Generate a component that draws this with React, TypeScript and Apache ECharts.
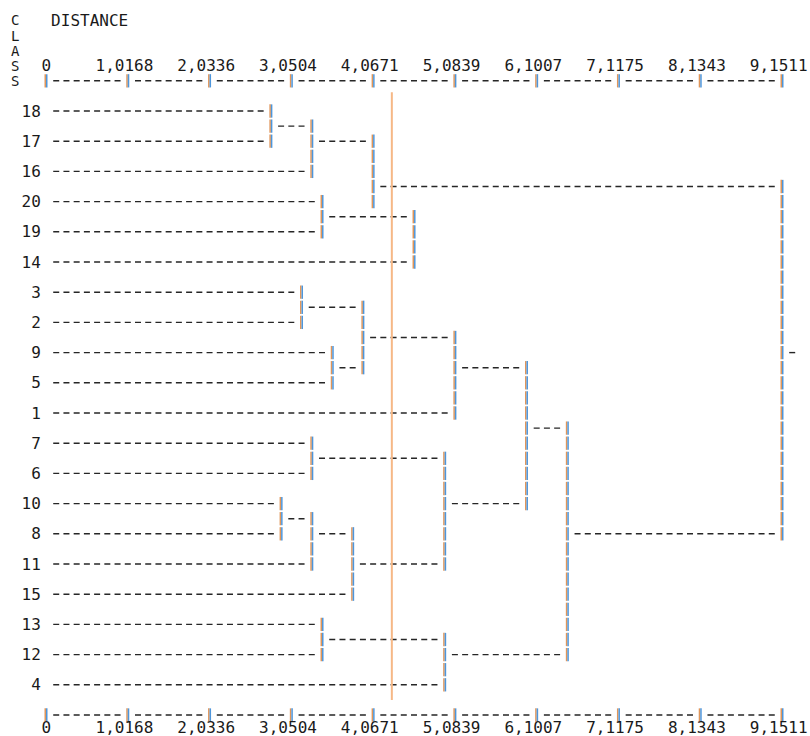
import React, { useEffect, useRef } from "react";
import * as echarts from "echarts";

// ---------- data ----------
const leafLabels = ["18", "17", "16", "20", "19", "14", "3", "2", "9", "5", "1", "7", "6", "10", "8", "11", "15", "13", "12", "4"];
// distance at which each leaf line meets its first vertical bar
const leafJoin = [2.796, 2.796, 3.305, 3.432, 3.432, 4.576, 3.177, 3.177, 3.559, 3.559, 5.084, 3.305, 3.305, 2.923, 2.923, 3.305, 3.813, 3.432, 3.432, 4.957];

// vertical merge bars: distance, first row, last row (rows in half-leaf steps)
const mergeHeights = [2.796, 3.305, 4.067, 3.432, 4.576, 9.151, 3.177, 3.559, 3.94, 5.084, 5.974, 6.482, 3.305, 2.923, 3.305, 3.813, 4.957, 3.432, 4.957];
const mergeFromRow = [0, 1, 2, 6, 7, 5, 12, 16, 13, 15, 17, 21, 22, 26, 27, 28, 23, 34, 35];
const mergeToRow = [2, 4, 6, 8, 10, 28, 14, 18, 17, 20, 26, 36, 24, 28, 30, 32, 30, 36, 38];

// horizontal links between bars: from distance, to distance, row
const linkFrom = [2.796, 3.305, 4.067, 3.432, 3.177, 3.559, 3.94, 5.084, 5.974, 3.305, 2.923, 3.305, 3.813, 4.957, 6.482, 3.432, 4.957, 9.151];
const linkTo = [3.305, 4.067, 9.151, 4.576, 3.94, 3.94, 5.084, 5.974, 6.482, 4.957, 3.305, 3.813, 4.957, 5.974, 9.151, 4.957, 6.482, 9.405];
const linkRow = [1, 2, 5, 7, 13, 17, 15, 17, 21, 23, 27, 28, 30, 26, 28, 35, 36, 16];

// distance axis
const tickValues = [0, 1.0168, 2.0336, 3.0504, 4.0671, 5.0839, 6.1007, 7.1175, 8.1343, 9.1511];
const tickLabels = ["0", "1,0168", "2,0336", "3,0504", "4,0671", "5,0839", "6,1007", "7,1175", "8,1343", "9,1511"];
const classLetters = ["C", "L", "A", "S", "S"];
const titleText = "DISTANCE";

// cut line
const cutDistance = 4.3;
const cutRowFrom = -1.25;
const cutRowTo = 39;

// ---------- layout constants ----------
const MAX_D = 9.1511;
const COLS = 72;
const HEADER_ROW = -6;
const TOP_LABEL_ROW = -3;
const TOP_AXIS_ROW = -2;
const BOTTOM_AXIS_ROW = 40;
const BOTTOM_LABEL_ROW = 40.8;
const Y_MAX = 41;

const DASH_COLOR = "#262626";
const ORANGE = "#e0965a";
const BLUE = "#4d96dc";
const TEXT_COLOR = "#1a1a1a";
const FONT = '16px "DejaVu Sans Mono", monospace';
const LETTER_FONT = '14px "DejaVu Sans Mono", monospace';

function metrics(api: any) {
  const x0 = api.coord([0, 0])[0];
  const xm = api.coord([MAX_D, 0])[0];
  const charW = (xm - x0) / COLS;
  const rowH = api.coord([0, 1])[1] - api.coord([0, 0])[1];
  return { charW, rowH };
}

function dashLine(x1: number, x2: number, y: number, charW: number) {
  return {
    type: "line",
    shape: { x1, y1: y, x2, y2: y },
    style: { stroke: DASH_COLOR, lineWidth: 1.4, lineDash: [6, charW - 6] },
  };
}

function barGlyph(x: number, y: number, rowH: number) {
  const h = rowH * 0.44;
  return [
    { type: "line", shape: { x1: x - 0.75, y1: y - h, x2: x - 0.75, y2: y + h }, style: { stroke: ORANGE, lineWidth: 1.5 } },
    { type: "line", shape: { x1: x + 0.75, y1: y - h, x2: x + 0.75, y2: y + h }, style: { stroke: BLUE, lineWidth: 1.5 } },
  ];
}

function textEl(text: string, x: number, y: number, align: string, font: string = FONT) {
  return {
    type: "text",
    style: { text, x, y, font, lineHeight: 13, fill: TEXT_COLOR, align, verticalAlign: "middle" },
  };
}

export default function App() {
  const ref = useRef<HTMLDivElement>(null);

  useEffect(() => {
    if (!ref.current) return;
    const chart = echarts.init(ref.current, null, { renderer: "svg" });

    const option: any = {
      animation: false,
      backgroundColor: "#ffffff",
      grid: { left: 46, right: 28, top: 20.4, bottom: 5.9 },
      xAxis: { type: "value", min: 0, max: MAX_D, show: false },
      yAxis: { type: "value", min: HEADER_ROW, max: Y_MAX, inverse: true, show: false },
      series: [
        // leaves
        {
          type: "custom",
          silent: true,
          clip: false,
          data: leafJoin.map((d, i) => [d, i * 2]),
          renderItem: (params: any, api: any) => {
            const { charW } = metrics(api);
            const d = api.value(0);
            const row = api.value(1);
            const [x0, y] = api.coord([0, row]);
            const xe = api.coord([d, row])[0];
            return {
              type: "group",
              children: [
                dashLine(x0 + charW - 3, xe - charW + 3, y, charW),
                textEl(leafLabels[params.dataIndex], x0 - 0.5 * charW, y, "right"),
              ],
            };
          },
        },
        // vertical bars
        {
          type: "custom",
          silent: true,
          clip: false,
          data: mergeHeights.map((d, i) => [d, mergeFromRow[i], mergeToRow[i]]),
          renderItem: (params: any, api: any) => {
            const { rowH } = metrics(api);
            const d = api.value(0);
            const r1 = api.value(1);
            const r2 = api.value(2);
            const children: any[] = [];
            for (let r = r1; r <= r2; r++) {
              const [x, y] = api.coord([d, r]);
              children.push(...barGlyph(x, y, rowH));
            }
            return { type: "group", children };
          },
        },
        // horizontal links
        {
          type: "custom",
          silent: true,
          clip: false,
          data: linkFrom.map((a, i) => [a, linkTo[i], linkRow[i]]),
          renderItem: (params: any, api: any) => {
            const { charW } = metrics(api);
            const a = api.value(0);
            const b = api.value(1);
            const row = api.value(2);
            const [xa, y] = api.coord([a, row]);
            const xb = api.coord([b, row])[0];
            return dashLine(xa + charW - 3, xb - charW + 3, y, charW);
          },
        },
        // distance axes, top and bottom
        {
          type: "custom",
          silent: true,
          clip: false,
          data: tickValues.map((v) => [v]),
          renderItem: (params: any, api: any) => {
            const { charW, rowH } = metrics(api);
            const i = params.dataIndex;
            const v = api.value(0);
            const label = tickLabels[i];
            const children: any[] = [];
            for (const [axisRow, labelRow] of [[TOP_AXIS_ROW, TOP_LABEL_ROW], [BOTTOM_AXIS_ROW, BOTTOM_LABEL_ROW]]) {
              const [x, y] = api.coord([v, axisRow]);
              children.push(...barGlyph(x, y, rowH));
              if (i < tickValues.length - 1) {
                const xn = api.coord([tickValues[i + 1], axisRow])[0];
                children.push(dashLine(x + charW - 3, xn - charW + 3, y, charW));
              }
              const ly = api.coord([v, labelRow])[1];
              const lx = x + (label.length > 1 ? 2.5 : 0.5) * charW;
              children.push(textEl(label, lx, ly, "right"));
            }
            return { type: "group", children };
          },
        },
        // CLASS letters and DISTANCE title
        {
          type: "custom",
          silent: true,
          clip: false,
          data: classLetters.map((_, i) => [0, HEADER_ROW + i]),
          renderItem: (params: any, api: any) => {
            const { charW } = metrics(api);
            const row = api.value(1);
            const [x0, y] = api.coord([0, row]);
            const children: any[] = [textEl(classLetters[params.dataIndex], x0 - 3 * charW, y, "center", LETTER_FONT)];
            if (params.dataIndex === 0) {
              children.push(textEl(titleText, x0 + 0.5 * charW, y, "left"));
            }
            return { type: "group", children };
          },
        },
        // cut line
        {
          type: "custom",
          silent: true,
          clip: false,
          data: [[cutDistance, cutRowFrom, cutRowTo]],
          renderItem: (params: any, api: any) => {
            const d = api.value(0);
            const [x, y1] = api.coord([d, api.value(1)]);
            const y2 = api.coord([d, api.value(2)])[1];
            return {
              type: "line",
              shape: { x1: x, y1, x2: x, y2 },
              style: { stroke: "#f6b886", lineWidth: 2 },
            };
          },
        },
      ],
    };

    chart.setOption(option);
    return () => {
      chart.dispose();
    };
  }, []);

  return (
    <div
      ref={ref}
      style={{ position: "fixed", left: 0, top: 0, width: 810, height: 736, background: "#fff" }}
    />
  );
}
